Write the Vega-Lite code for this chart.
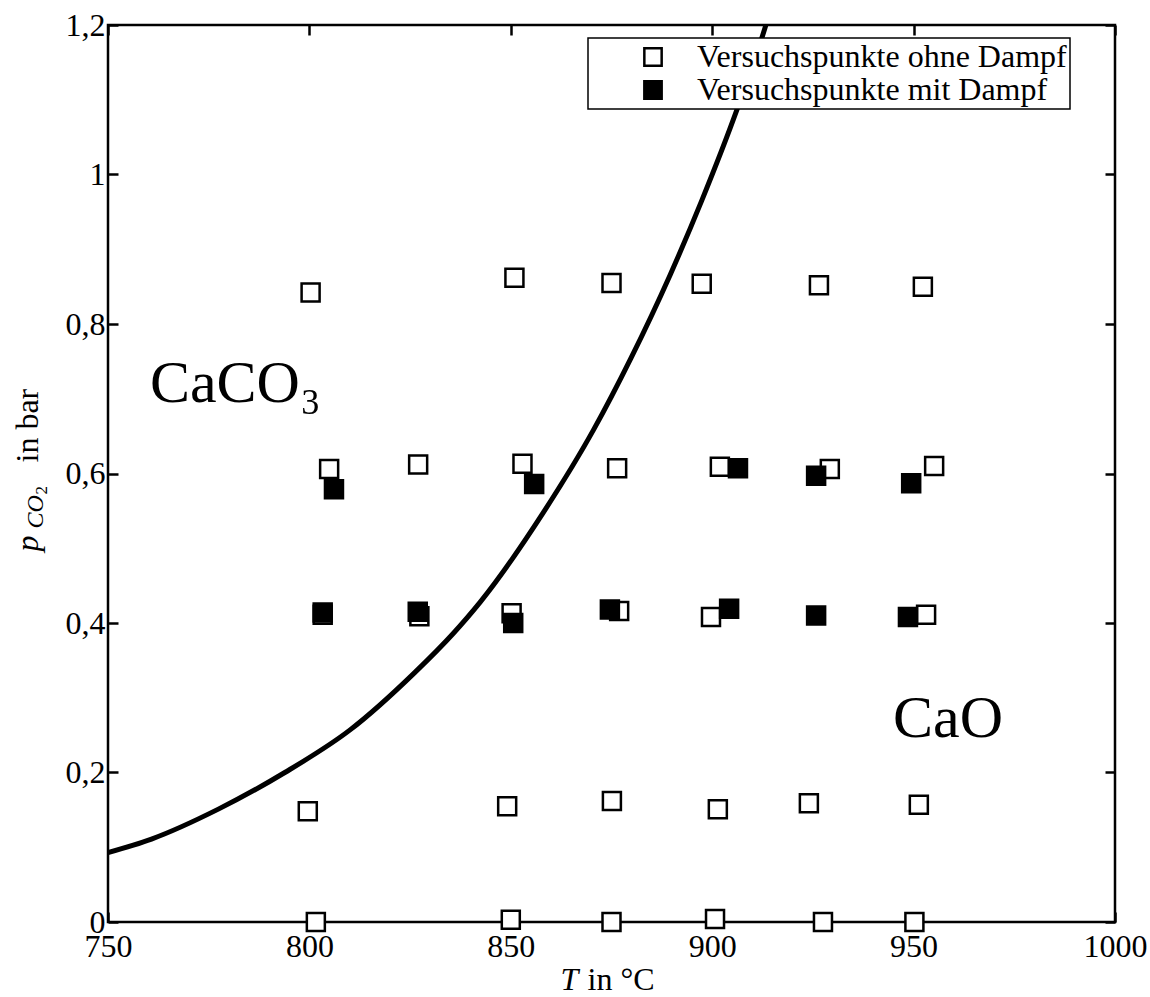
{
  "$schema": "https://vega.github.io/schema/vega-lite/v6.json",
  "width": 1007,
  "height": 897,
  "autosize": {"type": "none"},
  "padding": {"left": 108, "top": 25, "right": 35, "bottom": 75},
  "background": "white",
  "config": {
    "view": {"stroke": "black", "strokeWidth": 2.5},
    "axis": {
      "domain": false,
      "grid": false,
      "labelFlush": false,
      "labelFont": "Liberation Serif",
      "labelFontSize": 32,
      "labelColor": "black",
      "tickColor": "black",
      "tickWidth": 2.5,
      "tickSize": -10,
      "titleFont": "Liberation Serif",
      "titleFontSize": 32,
      "titleFontWeight": "normal",
      "titleColor": "black"
    },
    "legend": {
      "labelFont": "Liberation Serif",
      "labelFontSize": 32,
      "labelColor": "black",
      "strokeWidth": 1.5
    }
  },
  "datasets": {
    "curve": [
      {"T": 750.0, "p": 0.093},
      {"T": 760.8, "p": 0.111},
      {"T": 777.4, "p": 0.151},
      {"T": 793.9, "p": 0.200},
      {"T": 810.1, "p": 0.257},
      {"T": 826.2, "p": 0.334},
      {"T": 835.7, "p": 0.386},
      {"T": 842.4, "p": 0.428},
      {"T": 858.1, "p": 0.548},
      {"T": 870.5, "p": 0.658},
      {"T": 879.8, "p": 0.754},
      {"T": 889.5, "p": 0.865},
      {"T": 897.4, "p": 0.965},
      {"T": 906.1, "p": 1.086},
      {"T": 913.1, "p": 1.196},
      {"T": 914.0, "p": 1.212}
    ],
    "points": [
      {"T": 801.6, "p": 0.000, "Serie": "Versuchspunkte ohne Dampf"},
      {"T": 850.0, "p": 0.003, "Serie": "Versuchspunkte ohne Dampf"},
      {"T": 875.0, "p": 0.000, "Serie": "Versuchspunkte ohne Dampf"},
      {"T": 900.7, "p": 0.004, "Serie": "Versuchspunkte ohne Dampf"},
      {"T": 927.5, "p": 0.000, "Serie": "Versuchspunkte ohne Dampf"},
      {"T": 950.2, "p": 0.000, "Serie": "Versuchspunkte ohne Dampf"},
      {"T": 799.6, "p": 0.148, "Serie": "Versuchspunkte ohne Dampf"},
      {"T": 849.1, "p": 0.155, "Serie": "Versuchspunkte ohne Dampf"},
      {"T": 875.1, "p": 0.162, "Serie": "Versuchspunkte ohne Dampf"},
      {"T": 901.4, "p": 0.151, "Serie": "Versuchspunkte ohne Dampf"},
      {"T": 924.0, "p": 0.159, "Serie": "Versuchspunkte ohne Dampf"},
      {"T": 951.3, "p": 0.157, "Serie": "Versuchspunkte ohne Dampf"},
      {"T": 803.3, "p": 0.411, "Serie": "Versuchspunkte ohne Dampf"},
      {"T": 827.3, "p": 0.409, "Serie": "Versuchspunkte ohne Dampf"},
      {"T": 850.2, "p": 0.413, "Serie": "Versuchspunkte ohne Dampf"},
      {"T": 876.9, "p": 0.416, "Serie": "Versuchspunkte ohne Dampf"},
      {"T": 899.7, "p": 0.408, "Serie": "Versuchspunkte ohne Dampf"},
      {"T": 953.1, "p": 0.411, "Serie": "Versuchspunkte ohne Dampf"},
      {"T": 804.9, "p": 0.606, "Serie": "Versuchspunkte ohne Dampf"},
      {"T": 827.0, "p": 0.612, "Serie": "Versuchspunkte ohne Dampf"},
      {"T": 852.9, "p": 0.613, "Serie": "Versuchspunkte ohne Dampf"},
      {"T": 876.4, "p": 0.607, "Serie": "Versuchspunkte ohne Dampf"},
      {"T": 901.9, "p": 0.609, "Serie": "Versuchspunkte ohne Dampf"},
      {"T": 929.2, "p": 0.606, "Serie": "Versuchspunkte ohne Dampf"},
      {"T": 955.1, "p": 0.610, "Serie": "Versuchspunkte ohne Dampf"},
      {"T": 800.3, "p": 0.842, "Serie": "Versuchspunkte ohne Dampf"},
      {"T": 850.9, "p": 0.862, "Serie": "Versuchspunkte ohne Dampf"},
      {"T": 875.0, "p": 0.855, "Serie": "Versuchspunkte ohne Dampf"},
      {"T": 897.4, "p": 0.854, "Serie": "Versuchspunkte ohne Dampf"},
      {"T": 926.5, "p": 0.852, "Serie": "Versuchspunkte ohne Dampf"},
      {"T": 952.3, "p": 0.850, "Serie": "Versuchspunkte ohne Dampf"},
      {"T": 803.3, "p": 0.414, "Serie": "Versuchspunkte mit Dampf"},
      {"T": 826.9, "p": 0.415, "Serie": "Versuchspunkte mit Dampf"},
      {"T": 850.6, "p": 0.400, "Serie": "Versuchspunkte mit Dampf"},
      {"T": 874.6, "p": 0.418, "Serie": "Versuchspunkte mit Dampf"},
      {"T": 904.2, "p": 0.419, "Serie": "Versuchspunkte mit Dampf"},
      {"T": 925.8, "p": 0.410, "Serie": "Versuchspunkte mit Dampf"},
      {"T": 948.6, "p": 0.408, "Serie": "Versuchspunkte mit Dampf"},
      {"T": 806.1, "p": 0.579, "Serie": "Versuchspunkte mit Dampf"},
      {"T": 855.8, "p": 0.586, "Serie": "Versuchspunkte mit Dampf"},
      {"T": 906.4, "p": 0.607, "Serie": "Versuchspunkte mit Dampf"},
      {"T": 925.8, "p": 0.597, "Serie": "Versuchspunkte mit Dampf"},
      {"T": 949.4, "p": 0.587, "Serie": "Versuchspunkte mit Dampf"}
    ],
    "phases": [
      {"T": 760.4, "p": 0.696, "Phase": "CaCO₃"},
      {"T": 944.9, "p": 0.2475, "Phase": "CaO"}
    ]
  },
  "resolve": {"axis": {"x": "independent", "y": "independent"}},
  "layer": [
    {
      "data": {"name": "curve"},
      "mark": {"type": "line", "color": "black", "strokeWidth": 5, "interpolate": "monotone", "clip": true},
      "encoding": {
        "x": {
          "field": "T", "type": "quantitative",
          "scale": {"domain": [750, 1000], "nice": false, "zero": false},
          "axis": {"orient": "bottom", "values": [750, 800, 850, 900, 950, 1000], "format": "d", "labelPadding": 19, "title": "in °C", "titleAlign": "left", "titleAnchor": null, "titleX": 479, "titleY": 74, "titleBaseline": "bottom"}
        },
        "y": {
          "field": "p", "type": "quantitative",
          "scale": {"domain": [0, 1.2], "nice": false, "zero": false},
          "axis": {"orient": "left", "values": [0, 0.2, 0.4, 0.6, 0.8, 1, 1.2], "labelExpr": "replace(format(datum.value, '.1~f'), '.', ',')", "labelPadding": 13, "title": "in bar", "titleAngle": -90, "titleAlign": "left", "titleAnchor": null, "titleX": -71, "titleY": 437, "titleBaseline": "alphabetic"}
        }
      }
    },
    {
      "data": {"name": "points"},
      "mark": {"type": "point", "shape": "square", "size": 324, "filled": true, "stroke": "black", "strokeWidth": 2.5, "opacity": 1},
      "encoding": {
        "x": {
          "field": "T", "type": "quantitative",
          "scale": {"domain": [750, 1000], "nice": false, "zero": false},
          "axis": {"orient": "top", "values": [750, 800, 850, 900, 950, 1000], "labels": false, "title": null}
        },
        "y": {
          "field": "p", "type": "quantitative",
          "scale": {"domain": [0, 1.2], "nice": false, "zero": false},
          "axis": {"orient": "right", "values": [0, 0.2, 0.4, 0.6, 0.8, 1, 1.2], "labels": false, "title": null}
        },
        "fill": {
          "field": "Serie", "type": "nominal",
          "scale": {"domain": ["Versuchspunkte ohne Dampf", "Versuchspunkte mit Dampf"], "range": ["white", "black"]},
          "legend": {
            "title": null,
            "orient": "none",
            "legendX": 480,
            "legendY": 13,
            "fillColor": "white",
            "strokeColor": "black",
            "padding": 3,
            "rowPadding": 1,
            "symbolType": "square",
            "symbolSize": 300,
            "symbolStrokeColor": "black",
            "symbolStrokeWidth": 2.5,
            "symbolOffset": 46,
            "labelOffset": 28,
            "labelLimit": 600
          }
        }
      }
    },
    {
      "data": {"name": "phases"},
      "mark": {"type": "text", "align": "left", "baseline": "alphabetic", "font": "Liberation Serif", "fontSize": 60, "color": "black"},
      "encoding": {
        "x": {
          "field": "T", "type": "quantitative",
          "scale": {"domain": [750, 1000], "nice": false, "zero": false},
          "axis": {"orient": "bottom", "labels": false, "ticks": false, "title": "T", "titleFontStyle": "italic", "titleAlign": "left", "titleAnchor": null, "titleX": 452, "titleY": 74, "titleBaseline": "bottom"}
        },
        "y": {
          "field": "p", "type": "quantitative",
          "scale": {"domain": [0, 1.2], "nice": false, "zero": false},
          "axis": {"orient": "left", "labels": false, "ticks": false, "title": "p", "titleFontStyle": "italic", "titleAngle": -90, "titleAlign": "left", "titleAnchor": null, "titleX": -71, "titleY": 526, "titleBaseline": "alphabetic"}
        },
        "text": {"field": "Phase", "type": "nominal"}
      }
    },
    {
      "data": {"name": "curve"},
      "mark": {"type": "point", "opacity": 0},
      "encoding": {
        "x": {"field": "T", "type": "quantitative", "scale": {"domain": [750, 1000], "nice": false, "zero": false}, "axis": null},
        "y": {
          "field": "p", "type": "quantitative",
          "scale": {"domain": [0, 1.2], "nice": false, "zero": false},
          "axis": {"orient": "left", "labels": false, "ticks": false, "title": "CO", "titleFontStyle": "italic", "titleFontSize": 24, "titleAngle": -90, "titleAlign": "left", "titleAnchor": null, "titleX": -66, "titleY": 503, "titleBaseline": "alphabetic"}
        }
      }
    },
    {
      "data": {"name": "curve"},
      "mark": {"type": "point", "opacity": 0},
      "encoding": {
        "x": {"field": "T", "type": "quantitative", "scale": {"domain": [750, 1000], "nice": false, "zero": false}, "axis": null},
        "y": {
          "field": "p", "type": "quantitative",
          "scale": {"domain": [0, 1.2], "nice": false, "zero": false},
          "axis": {"orient": "left", "labels": false, "ticks": false, "title": "2", "titleFontSize": 17, "titleAngle": -90, "titleAlign": "left", "titleAnchor": null, "titleX": -62, "titleY": 469, "titleBaseline": "alphabetic"}
        }
      }
    }
  ]
}
